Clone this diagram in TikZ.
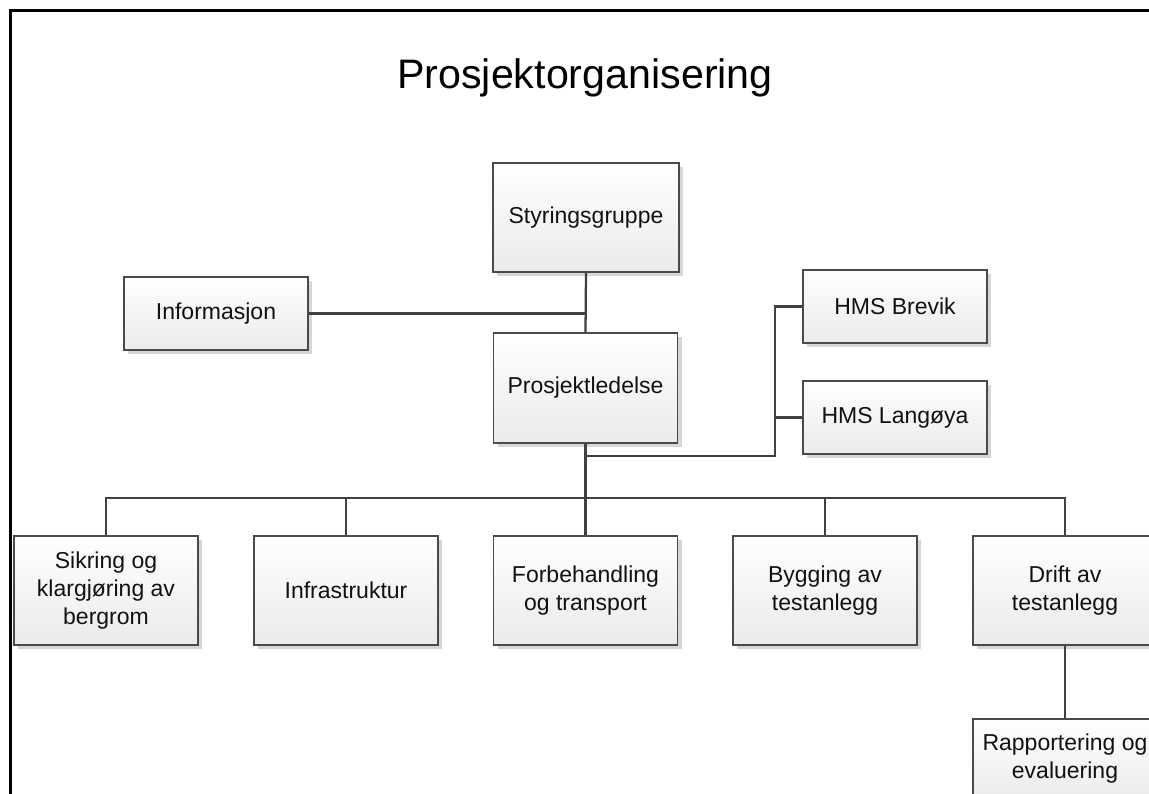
\documentclass[tikz,border=0pt]{standalone}
\usepackage{fontspec}
\setmainfont{Liberation Sans}
\usetikzlibrary{shadows}
\definecolor{boxline}{HTML}{4A4A4A}
\definecolor{conn}{HTML}{404040}
\definecolor{shadowc}{HTML}{D6D6D6}
\definecolor{txt}{HTML}{111111}
\tikzset{
  orgbox/.style={draw=boxline, line width=0.8pt, top color=white, bottom color=black!8,
    minimum width=138pt, minimum height=81.75pt, inner sep=0pt, align=center,
    text=txt, font=\fontsize{17.25}{21}\selectfont,
    drop shadow={shadow xshift=3pt, shadow yshift=-3pt, fill=shadowc, opacity=1}},
  smallbox/.style={orgbox, minimum height=54.75pt},
  link/.style={draw=conn, line width=1.7pt}
}
\begin{document}
\begin{tikzpicture}[x=0.75pt,y=-0.75pt]
\useasboundingbox (0,0) rectangle (1149,793);
\clip (0,0) rectangle (1149,793);
\fill[white] (0,0) rectangle (1149,793);
\draw[black, line width=2.4pt] (10.5,800) -- (10.5,10.5) -- (1160,10.5);
\node[text=black, font=\fontsize{30.9}{36}\selectfont] (title) at (585,78) {Prosjektorganisering};

\node[orgbox, minimum width=139.5pt] (sty) at (586,217.5) {Styringsgruppe};
\node[smallbox] (info) at (216,313.5) {Informasjon};
\node[orgbox, minimum height=82.5pt] (pro) at (585.5,388) {Prosjektledelse};
\node[smallbox] (hmsb) at (895,306.5) {HMS Brevik};
\node[smallbox] (hmsl) at (895,417.5) {HMS Langøya};

\node[orgbox] (b1) at (106,590.5) {Sikring og\\klargjøring av\\bergrom};
\node[orgbox] (b2) at (346,590.5) {Infrastruktur};
\node[orgbox] (b3) at (585.5,590.5) {Forbehandling\\og transport};
\node[orgbox] (b4) at (825,590.5) {Bygging av\\testanlegg};
\node[orgbox] (b5) at (1065,590.5) {Drift av\\testanlegg};
\node[orgbox, minimum height=60pt] (rap) at (1065,759) {Rapportering og\\evaluering};

\coordinate (bus) at (585.5,498);
\coordinate (hmsbus) at (775,456);

\draw[link] (sty.south) -- (pro.north);
\draw[link] (info.east) -- (info.east -| sty.south);
\draw[link] (pro.south) -- (bus);
\draw[link] (bus) -| (b1.north);
\draw[link] (bus) -| (b2.north);
\draw[link] (bus) -- (b3.north);
\draw[link] (bus) -| (b4.north);
\draw[link] (bus) -| (b5.north);
\draw[link] (pro.south |- hmsbus) -- (hmsbus) |- (hmsb.west);
\draw[link] (hmsbus |- hmsl.west) -- (hmsl.west);
\draw[link] (b5.south) -- (rap.north);
\end{tikzpicture}
\end{document}
